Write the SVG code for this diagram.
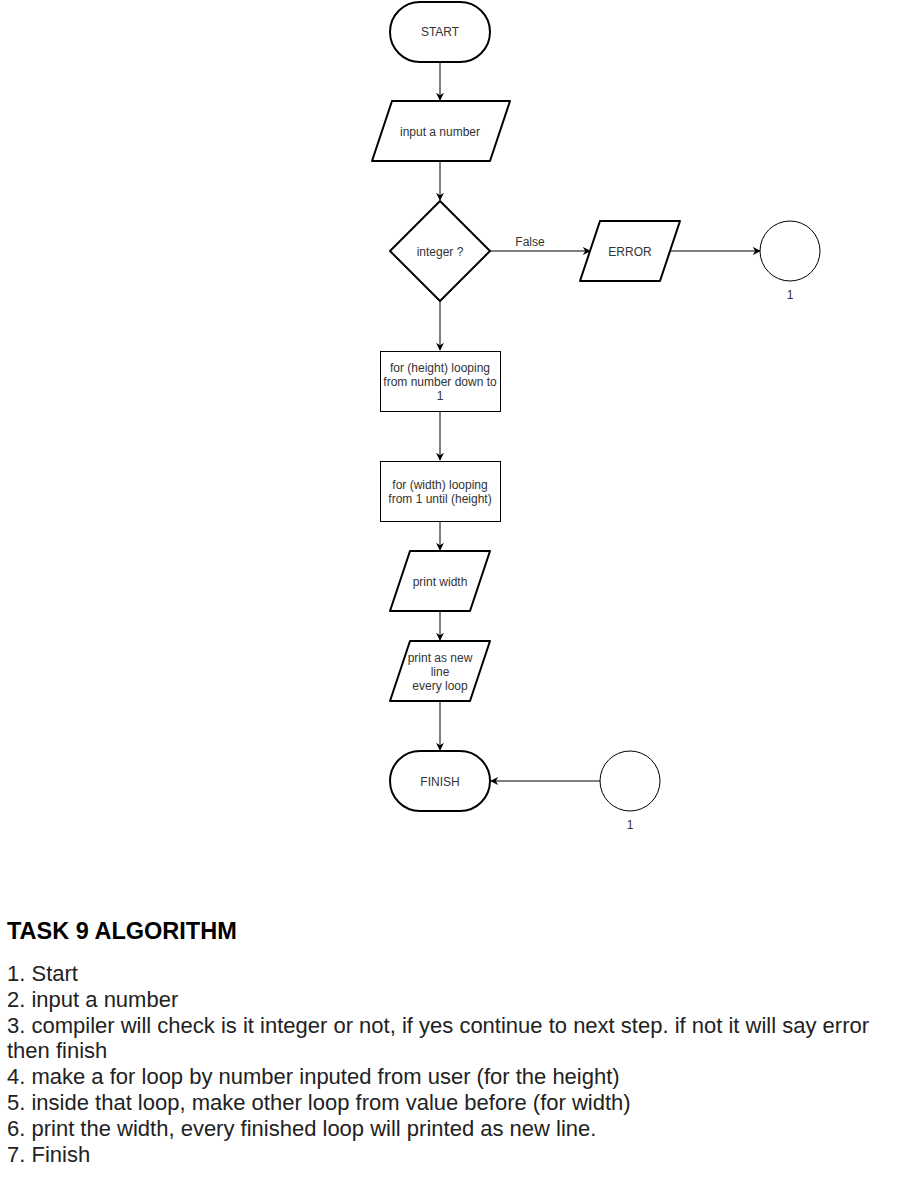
<svg xmlns="http://www.w3.org/2000/svg" width="902" height="1192" viewBox="0 0 902 1192">
<style>
.thick{fill:#fff;stroke:#000;stroke-width:2;stroke-linejoin:round}
.thin{fill:#fff;stroke:#000;stroke-width:1}
.edge{fill:none;stroke:#000;stroke-width:1}
.t{font-family:"Liberation Sans",Arial,sans-serif;font-size:12px;fill:#333;text-anchor:middle}
.s{font-family:"Liberation Sans",Arial,sans-serif;font-size:12px;fill:#333;text-anchor:middle}
.h{font-family:"Liberation Sans",Arial,sans-serif;font-size:23.5px;font-weight:bold;fill:#000}
.b{font-family:"Liberation Sans",Arial,sans-serif;font-size:22px;fill:#222}
</style>
<defs>
<marker id="arr" viewBox="0 0 10 10" refX="9" refY="5" markerWidth="8" markerHeight="8" markerUnits="userSpaceOnUse" orient="auto">
<path d="M0,0 L10,5 L0,10 L3,5 z" fill="#000"/>
</marker>
</defs>
<rect width="902" height="1192" fill="#fff"/>
<g id="connectors">
<path class="edge" d="M440,62 L440,100" marker-end="url(#arr)"/>
<path class="edge" d="M440,161 L440,200" marker-end="url(#arr)"/>
<path class="edge" d="M490,251 L590,251" marker-end="url(#arr)"/>
<text class="s" x="530" y="246">False</text>
<path class="edge" d="M670,251 L760,251" marker-end="url(#arr)"/>
<path class="edge" d="M440,301 L440,350" marker-end="url(#arr)"/>
<path class="edge" d="M440,411 L440,460" marker-end="url(#arr)"/>
<path class="edge" d="M440,521 L440,550" marker-end="url(#arr)"/>
<path class="edge" d="M440,611 L440,640" marker-end="url(#arr)"/>
<path class="edge" d="M440,701 L440,750" marker-end="url(#arr)"/>
<path class="edge" d="M600,781 L491,781" marker-end="url(#arr)"/>
</g>
<g id="start">
<rect class="thick" x="390" y="2" width="100" height="60" rx="30" ry="30"/>
<text class="t" x="440" y="36">START</text>
</g>
<g id="input">
<path class="thick" d="M392,101 L510,101 L490,161 L372,161 Z"/>
<text class="t" x="440" y="136">input a number</text>
</g>
<g id="decision">
<path class="thick" d="M440,201 L490,251 L440,301 L390,251 Z"/>
<text class="t" x="440" y="256">integer ?</text>
</g>
<g id="error">
<path class="thick" d="M600,221 L680,221 L660,281 L580,281 Z"/>
<text class="t" x="630" y="256">ERROR</text>
</g>
<g id="connector1">
<circle class="thin" cx="790" cy="251" r="30"/>
<text class="s" x="790" y="299">1</text>
</g>
<g id="heightloop">
<rect class="thin" x="380.5" y="351.5" width="120" height="60"/>
<text class="s" x="440" y="372">for (height) looping</text>
<text class="s" x="440" y="386">from number down to</text>
<text class="s" x="440" y="400">1</text>
</g>
<g id="widthloop">
<rect class="thin" x="380.5" y="461.5" width="120" height="60"/>
<text class="s" x="440" y="489">for (width) looping</text>
<text class="s" x="440" y="503">from 1 until (height)</text>
</g>
<g id="printwidth">
<path class="thick" d="M410,551 L490,551 L470,611 L390,611 Z"/>
<text class="s" x="440" y="586">print width</text>
</g>
<g id="printline">
<path class="thick" d="M410,641 L490,641 L470,701 L390,701 Z"/>
<text class="s" x="440" y="662">print as new</text>
<text class="s" x="440" y="676">line</text>
<text class="s" x="440" y="690">every loop</text>
</g>
<g id="finish">
<rect class="thick" x="390" y="751" width="100" height="60" rx="30" ry="30"/>
<text class="t" x="440" y="786">FINISH</text>
</g>
<g id="connector2">
<circle class="thin" cx="630" cy="781" r="30"/>
<text class="s" x="630" y="829">1</text>
</g>
<g id="algorithm">
<text class="h" x="7" y="939">TASK 9 ALGORITHM</text>
<text class="b" x="7" y="981">1. Start</text>
<text class="b" x="7" y="1007">2. input a number</text>
<text class="b" x="7" y="1033">3. compiler will check is it integer or not, if yes continue to next step. if not it will say error</text>
<text class="b" x="7" y="1058">then finish</text>
<text class="b" x="7" y="1084">4. make a for loop by number inputed from user (for the height)</text>
<text class="b" x="7" y="1110">5. inside that loop, make other loop from value before (for width)</text>
<text class="b" x="7" y="1136">6. print the width, every finished loop will printed as new line.</text>
<text class="b" x="7" y="1162">7. Finish</text>
</g>
</svg>
